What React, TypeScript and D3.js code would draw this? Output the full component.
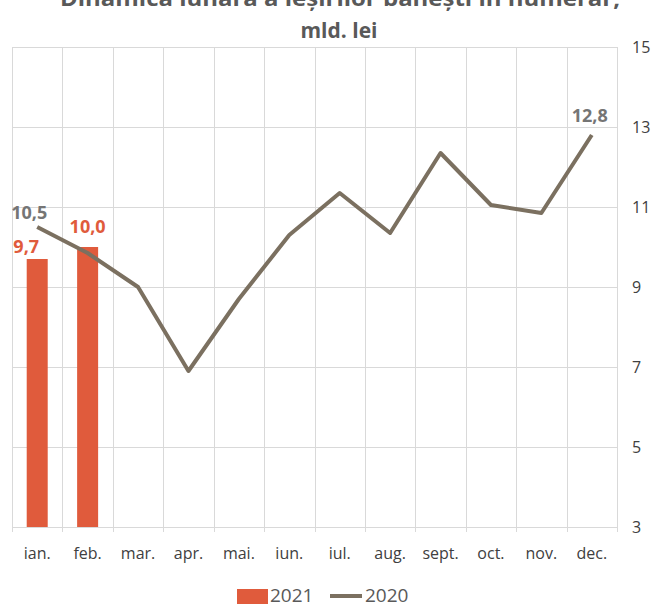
import * as d3 from "d3";
import { useEffect, useRef } from "react";

const months = ["ian.", "feb.", "mar.", "apr.", "mai.", "iun.", "iul.", "aug.", "sept.", "oct.", "nov.", "dec."];
const values2021 = [9.7, 10.0];
const values2020 = [10.5, 9.85, 9.0, 6.9, 8.7, 10.3, 11.35, 10.35, 12.35, 11.05, 10.85, 12.8];
const yTicks = [3, 5, 7, 9, 11, 13, 15];
const fmt = (v: number) => v.toFixed(1).replace(".", ",");

const W = 658;
const H = 607;
const FONT = "'Open Sans', 'Noto Sans', sans-serif";

const draw = (el: SVGSVGElement) => {
  const svg = d3.select(el);
  svg.selectAll("*").remove();

  const m = { left: 12, right: 617, top: 47, bottom: 527 };
  const x = d3.scaleBand().domain(months).range([m.left, m.right]);
  const y = d3.scaleLinear().domain([3, 15]).range([m.bottom, m.top]);

  svg.append("rect").attr("width", W).attr("height", H).attr("fill", "#fff");

  // title (first line is cut off by the top edge in the original)
  const title = svg.append("g").attr("font-family", FONT).attr("font-weight", "bold")
    .attr("font-size", 21).attr("fill", "#595959").attr("text-anchor", "middle");
  title.append("text").attr("x", 340).attr("y", 6)
    .attr("textLength", 560).attr("lengthAdjust", "spacingAndGlyphs")
    .text("Dinamica lunară a ieșirilor bănești în numerar,");
  title.append("text").attr("x", 339).attr("y", 38).text("mld. lei");

  // grid
  const grid = svg.append("g").attr("stroke", "#d9d9d9").attr("stroke-width", 1);
  grid.selectAll("line.h").data(yTicks).join("line")
    .attr("x1", m.left).attr("x2", m.right)
    .attr("y1", (d) => Math.round(y(d)) + 0.5).attr("y2", (d) => Math.round(y(d)) + 0.5);
  const bounds = months.map((d) => x(d) as number).concat([m.right]);
  grid.selectAll("line.v").data(bounds).join("line")
    .attr("x1", (d) => Math.round(d) + 0.5).attr("x2", (d) => Math.round(d) + 0.5)
    .attr("y1", m.top).attr("y2", m.bottom + 5);

  // right axis labels
  svg.append("g").attr("font-family", FONT).attr("font-size", 16).attr("fill", "#404040")
    .selectAll("text").data(yTicks).join("text")
    .attr("x", 632).attr("y", (d) => y(d) + 6).text((d) => d);

  // month labels
  svg.append("g").attr("font-family", FONT).attr("font-size", 16).attr("fill", "#404040")
    .attr("text-anchor", "middle")
    .selectAll("text").data(months).join("text")
    .attr("x", (d) => (x(d) as number) + x.bandwidth() / 2).attr("y", 559).text((d) => d);

  // bars 2021
  const bw = 21;
  svg.append("g").attr("fill", "#e05b3c").selectAll("rect").data(values2021).join("rect")
    .attr("x", (_, i) => (x(months[i]) as number) + x.bandwidth() / 2 - bw / 2)
    .attr("width", bw)
    .attr("y", (d) => y(d)).attr("height", (d) => y(3) - y(d));

  // line 2020
  const line = d3.line<number>()
    .x((_, i) => (x(months[i]) as number) + x.bandwidth() / 2)
    .y((d) => y(d));
  svg.append("path").datum(values2020).attr("d", line).attr("fill", "none")
    .attr("stroke", "#7b7060").attr("stroke-width", 4).attr("stroke-linejoin", "round");

  // data labels
  const lab = svg.append("g").attr("font-family", FONT).attr("font-weight", "bold")
    .attr("font-size", 18).attr("text-anchor", "middle");
  const cx = (i: number) => (x(months[i]) as number) + x.bandwidth() / 2;
  lab.append("text").attr("fill", "#e05b3c").attr("x", cx(0) - 11).attr("y", y(values2021[0]) - 6).text(fmt(values2021[0]));
  lab.append("text").attr("fill", "#e05b3c").attr("x", cx(1)).attr("y", y(values2021[1]) - 14).text(fmt(values2021[1]));
  lab.append("text").attr("fill", "#757575").attr("x", cx(0) - 8).attr("y", y(values2020[0]) - 8).text(fmt(values2020[0]));
  lab.append("text").attr("fill", "#757575").attr("x", cx(11) - 2).attr("y", y(values2020[11]) - 13).text(fmt(values2020[11]));

  // legend
  const lg = svg.append("g").attr("font-family", FONT).attr("font-size", 19).attr("fill", "#595959");
  lg.append("rect").attr("x", 237).attr("y", 589).attr("width", 31).attr("height", 15).attr("fill", "#e05b3c");
  lg.append("text").attr("x", 270).attr("y", 602).text("2021");
  lg.append("line").attr("x1", 330).attr("x2", 362).attr("y1", 596).attr("y2", 596)
    .attr("stroke", "#7b7060").attr("stroke-width", 4);
  lg.append("text").attr("x", 365).attr("y", 602).text("2020");
};

export default function App() {
  const ref = useRef<SVGSVGElement>(null);
  useEffect(() => {
    if (ref.current) draw(ref.current);
  }, []);
  return (
    <svg ref={ref} width={W} height={H} style={{ position: "absolute", left: 0, top: 0, display: "block" }} />
  );
}
